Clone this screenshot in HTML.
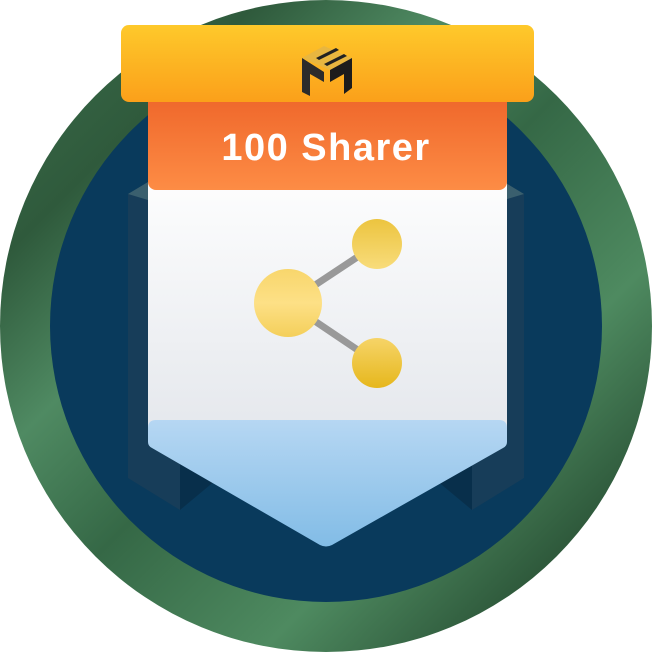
<!DOCTYPE html>
<html><head><style>
html,body{margin:0;padding:0;background:#fff;}
svg{display:block}
</style></head><body>
<svg width="652" height="652" viewBox="0 0 652 652" xmlns="http://www.w3.org/2000/svg">
<defs>
<linearGradient id="ring" x1="0" y1="0" x2="1" y2="1">
<stop offset="0" stop-color="#3d6f4c"/><stop offset="0.2" stop-color="#2f5a3c"/><stop offset="0.35" stop-color="#4f8a62"/><stop offset="0.5" stop-color="#356846"/><stop offset="0.7" stop-color="#4e8a60"/><stop offset="0.85" stop-color="#2f5a3c"/><stop offset="1" stop-color="#4b8560"/>
</linearGradient>
<linearGradient id="yel" x1="0" y1="0" x2="0" y2="1"><stop offset="0" stop-color="#fec92b"/><stop offset="1" stop-color="#fba01a"/></linearGradient>
<linearGradient id="org" x1="0" y1="0" x2="0" y2="1"><stop offset="0" stop-color="#ee6429"/><stop offset="1" stop-color="#fd8c45"/></linearGradient>
<linearGradient id="wht" x1="0" y1="0" x2="0" y2="1"><stop offset="0" stop-color="#ffffff"/><stop offset="1" stop-color="#e4e7ec"/></linearGradient>
<linearGradient id="blu" x1="0" y1="0" x2="0" y2="1"><stop offset="0" stop-color="#b6d7f3"/><stop offset="1" stop-color="#82bce6"/></linearGradient>
<linearGradient id="gold" x1="0" y1="0" x2="0" y2="1"><stop offset="0" stop-color="#ecc43f"/><stop offset="1" stop-color="#f8dc7b"/></linearGradient>
<linearGradient id="gold2" x1="0" y1="0" x2="0" y2="1"><stop offset="0" stop-color="#f6d468"/><stop offset="1" stop-color="#e6b71c"/></linearGradient>
<linearGradient id="goldB" x1="0" y1="0" x2="0" y2="1"><stop offset="0" stop-color="#f8d66c"/><stop offset="0.5" stop-color="#fde086"/><stop offset="1" stop-color="#f4cf5a"/></linearGradient>
</defs>
<circle cx="326" cy="326" r="326" fill="url(#ring)"/>
<circle cx="326" cy="326" r="276" fill="#093a5c"/>
<polygon points="128,194 148,182 180,194 180,510 128,478" fill="#173d59"/>
<polygon points="128,194 148,182 180,194 148,200" fill="#3a5f6e"/>
<polygon points="180,460 216,480 180,510" fill="#082f4b"/>
<polygon points="524,194 504,182 472,194 472,510 524,478" fill="#173d59"/>
<polygon points="524,194 504,182 472,194 504,200" fill="#3a5f6e"/>
<polygon points="472,460 436,480 472,510" fill="#082f4b"/>
<rect x="148" y="160" width="359" height="280" fill="url(#wht)"/>
<path d="M148,428 Q148,420 156,420 L499,420 Q507,420 507,428 L507,442 Q507,446 503,448 L332,545 Q326,548 320,545 L152,448 Q148,446 148,442 Z" fill="url(#blu)"/>
<rect x="148" y="90" width="359" height="100" rx="8" fill="url(#org)"/>
<rect x="121" y="25" width="413" height="77" rx="8" fill="url(#yel)"/>
<text x="326" y="160" text-anchor="middle" font-family="Liberation Sans, sans-serif" font-size="38" font-weight="bold" letter-spacing="1.5" fill="#fff">100 Sharer</text>
<g transform="translate(302,42)">
<polygon points="0,16 22,4 50,16 28,28" fill="#e8b640"/>
<polygon points="0,16 0,50 8,54 8,32 22,40 22,30" fill="#2b2b2b"/>
<polygon points="28,28 50,16 50,46 42,52 42,32 28,40" fill="#1c1c1c"/>
<polygon points="14,16 34,6 37,8 17,18" fill="#222"/>
<polygon points="22,22 42,12 45,14 25,24" fill="#222"/>
</g>
<line x1="288" y1="303" x2="377" y2="244" stroke="#999" stroke-width="7"/>
<line x1="288" y1="303" x2="377" y2="363" stroke="#999" stroke-width="7"/>
<circle cx="288" cy="303" r="34" fill="url(#goldB)"/>
<circle cx="377" cy="244" r="25" fill="url(#gold)"/>
<circle cx="377" cy="363" r="25" fill="url(#gold2)"/>
</svg>
</body></html>
